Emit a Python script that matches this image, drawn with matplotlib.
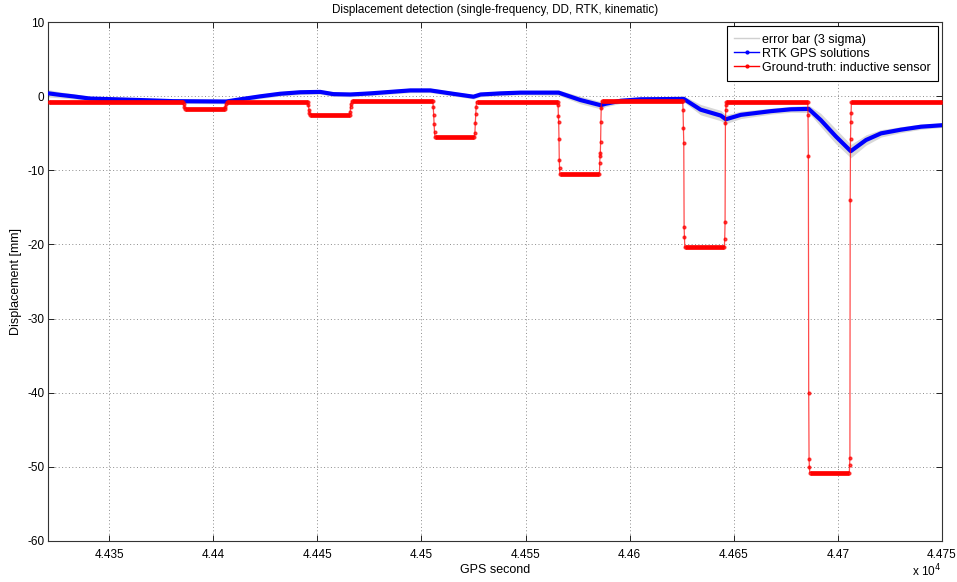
import numpy as np
import matplotlib
matplotlib.use('Agg')
import matplotlib.pyplot as plt
from matplotlib.lines import Line2D
from matplotlib.ticker import FuncFormatter

plt.rcParams['font.family'] = ['Liberation Sans', 'DejaVu Sans']
plt.rcParams['axes.unicode_minus'] = False

# ---------------- data ----------------
# RTK GPS solutions (GPS second, displacement mm)
rtk_t = [44321, 44326.4, 44332.7, 44340.9, 44364.9, 44380.8, 44406.3, 44413, 44422.6,
         44432.2, 44441.8, 44451.4, 44457.7, 44465.9, 44475.5, 44485.1, 44494.7, 44504.3,
         44513.9, 44525, 44528.4, 44538, 44547.6, 44565.9, 44576.4, 44586.1, 44588.5,
         44595.7, 44605.3, 44626, 44634.1, 44643.8, 44646.2, 44653.4, 44667.8, 44677.4,
         44686, 44691.8, 44699, 44706.2, 44713.5, 44720.7, 44730.3, 44739.9, 44750]
rtk_y = [0.4, 0.2, 0.0, -0.3, -0.5, -0.65, -0.7, -0.4, 0.0,
         0.35, 0.55, 0.6, 0.3, 0.25, 0.4, 0.6, 0.8, 0.8,
         0.4, -0.05, 0.25, 0.4, 0.5, 0.5, -0.5, -1.2, -1.0,
         -0.6, -0.4, -0.35, -1.8, -2.6, -3.1, -2.5, -2.0, -1.75,
         -1.7, -3.2, -5.4, -7.4, -5.9, -5.0, -4.5, -4.1, -3.9]
# 3-sigma half width of the error bars
rtk_sig3 = [0.5, 0.4, 0.35, 0.3, 0.3, 0.3, 0.3, 0.3, 0.3,
            0.3, 0.3, 0.3, 0.3, 0.3, 0.3, 0.3, 0.3, 0.3,
            0.3, 0.3, 0.3, 0.3, 0.3, 0.35, 0.5, 0.5, 0.4,
            0.35, 0.3, 0.4, 0.7, 0.7, 0.6, 0.5, 0.4, 0.4,
            0.5, 0.9, 1.0, 0.9, 0.7, 0.5, 0.4, 0.35, 0.3]

# Ground truth (inductive sensor): constant segments
gt_seg_start = [44321, 44386.5, 44406.5, 44446.5, 44466.5, 44506.5, 44526.5, 44566.5,
                44586.5, 44626.5, 44646.5, 44686.5, 44706.5]
gt_seg_end = [44385.5, 44405.5, 44445.5, 44465.5, 44505.5, 44525.5, 44565.5, 44585.5,
              44625.5, 44645.5, 44685.5, 44705.5, 44750]
gt_seg_level = [-0.7, -1.7, -0.75, -2.5, -0.65, -5.5, -0.7, -10.5,
                -0.65, -20.4, -0.8, -50.8, -0.8]
# sensor readings recorded during each transition between segments
gt_trans = [
    [-1.0, -1.4],
    [-1.4, -1.0],
    [-1.2, -1.8, -2.2],
    [-2.1, -1.5, -1.0],
    [-1.5, -2.5, -3.8, -4.8],
    [-4.9, -3.6, -2.4, -1.4],
    [-1.2, -2.7, -3.4, -5.7, -8.6, -9.7],
    [-9.0, -8.1, -7.7, -6.1, -3.4, -1.6],
    [-1.9, -4.3, -6.3, -17.6, -19.0],
    [-19.2, -17.0, -3.6, -1.9, -1.2],
    [-2.5, -8.0, -40.0, -49.0, -50.0],
    [-49.8, -48.8, -14.0, -5.8, -3.5, -2.2],
]

xticks = [44350, 44400, 44450, 44500, 44550, 44600, 44650, 44700, 44750]
yticks = [10, 0, -10, -20, -30, -40, -50, -60]

# ---------------- build ground-truth path ----------------
gt_t, gt_y = [], []
for i in range(len(gt_seg_level)):
    gt_t += [gt_seg_start[i], gt_seg_end[i]]
    gt_y += [gt_seg_level[i], gt_seg_level[i]]
    if i < len(gt_trans):
        vals = gt_trans[i]
        ts = np.linspace(gt_seg_end[i], gt_seg_start[i + 1], len(vals) + 2)[1:-1]
        gt_t += list(ts)
        gt_y += vals

rtk_t_a = np.array(rtk_t)
rtk_y_a = np.array(rtk_y)
sig = np.array(rtk_sig3)

# ---------------- figure ----------------
fig = plt.figure(figsize=(9.57, 5.82), dpi=100)
ax = fig.add_axes([0.0502, 0.0710, 0.9341, 0.8907])

ax.fill_between(rtk_t_a, rtk_y_a - sig, rtk_y_a + sig, color='#d8d8d8', lw=0, zorder=2)
ax.plot(rtk_t_a, rtk_y_a, color='#0000ff', lw=3.0, solid_capstyle='round',
        solid_joinstyle='round', zorder=3)

# ground truth: thin connecting line with dots + thick horizontal plateaus (dense samples)
ax.plot(gt_t, gt_y, color='#ff0000', lw=0.9, alpha=0.7, marker='.', ms=4,
        mec='#ff0000', mfc='#ff0000', zorder=4)
for s, e, lv in zip(gt_seg_start, gt_seg_end, gt_seg_level):
    ax.plot([s, e], [lv, lv], color='#ff0000', lw=3.4, solid_capstyle='butt', zorder=5)

ax.set_xlim(44320.7, 44750)
ax.set_ylim(-60, 10)
ax.set_xticks(xticks)
ax.set_yticks(yticks)
ax.xaxis.set_major_formatter(FuncFormatter(lambda v, p: ('%g' % (v / 1e4))))
ax.tick_params(direction='in', top=True, right=True, length=4, width=0.7,
               labelsize=8.5, colors='#222222', labelcolor='black')
ax.tick_params(axis='x', pad=6)
ax.tick_params(axis='y', pad=2.5)
ax.grid(True, color='#8c8c8c', linestyle=(0, (1, 2.5)), lw=0.7)
for sp in ax.spines.values():
    sp.set_linewidth(0.8)
    sp.set_color('#333333')

ax.set_title('Displacement detection (single-frequency, DD, RTK, kinematic)',
             fontsize=8.4, pad=7)
ax.set_xlabel('GPS second', fontsize=9, labelpad=2)
ax.set_ylabel('Displacement [mm]', fontsize=9, labelpad=4)
fig.text(0.953, 0.004, r'x 10$^{4}$', fontsize=8.5, ha='left', va='bottom')

handles = [
    Line2D([], [], color='#d0d0d0', lw=1.0),
    Line2D([], [], color='#0000ff', lw=1.0, marker='.', ms=4),
    Line2D([], [], color='#ff0000', lw=1.0, marker='.', ms=4),
]
labels = ['error bar (3 sigma)', 'RTK GPS solutions', 'Ground-truth: inductive sensor']
leg = ax.legend(handles, labels, loc='upper right', fontsize=9.0, frameon=True,
                fancybox=False, edgecolor='black', framealpha=1,
                borderaxespad=0.3, handlelength=2.0, handletextpad=0.2,
                labelspacing=0.16, borderpad=0.6, markerscale=1)
leg.get_frame().set_linewidth(0.8)

fig.savefig('out.png', dpi=100)
